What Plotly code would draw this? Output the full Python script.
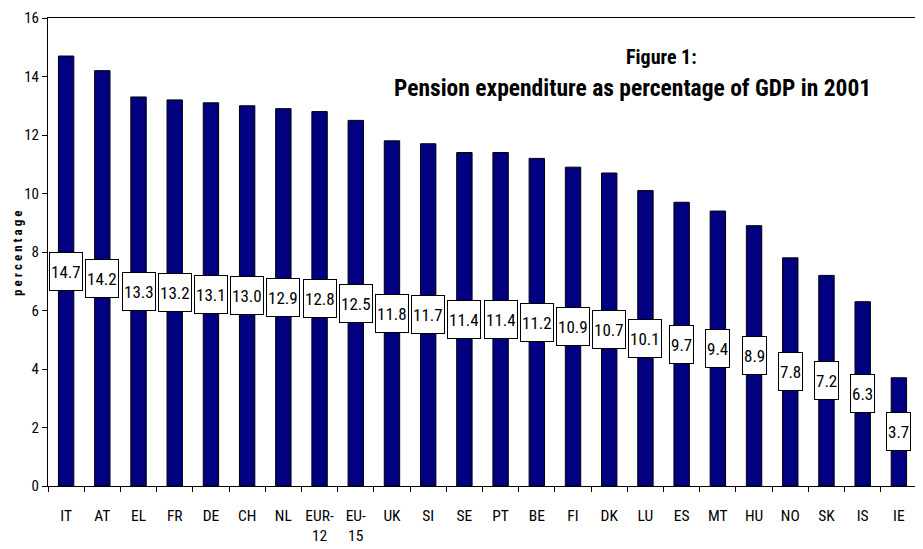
import plotly.graph_objects as go

countries = ["IT", "AT", "EL", "FR", "DE", "CH", "NL", "EUR-12", "EU-15", "UK", "SI", "SE",
             "PT", "BE", "FI", "DK", "LU", "ES", "MT", "HU", "NO", "SK", "IS", "IE"]
tick_labels = ["IT", "AT", "EL", "FR", "DE", "CH", "NL", "EUR-<br>12", "EU-<br>15", "UK", "SI", "SE",
               "PT", "BE", "FI", "DK", "LU", "ES", "MT", "HU", "NO", "SK", "IS", "IE"]
values = [14.7, 14.2, 13.3, 13.2, 13.1, 13.0, 12.9, 12.8, 12.5, 11.8, 11.7, 11.4,
          11.4, 11.2, 10.9, 10.7, 10.1, 9.7, 9.4, 8.9, 7.8, 7.2, 6.3, 3.7]
y_ticks = [0, 2, 4, 6, 8, 10, 12, 14, 16]

FONT = "Liberation Sans Narrow, Arial Narrow, Roboto Condensed, Liberation Sans, Arial, sans-serif"

OFF = 8  # default page body margin
W, H = 923 - OFF, 549 - OFF
L, R, T, B = 48 - OFF, 6, 18 - OFF, 63
pw, ph = W - L - R, H - T - B


def px_x(x):
    return (x - OFF - L) / pw


def px_y(y):
    return 1 - (y - OFF - T) / ph


fig = go.Figure()
fig.add_trace(go.Bar(
    x=countries, y=values,
    marker=dict(color="#000080", line=dict(color="#000000", width=1)),
    hoverinfo="x+y",
))

for c, v in zip(countries, values):
    fig.add_annotation(
        x=c, y=v / 2, xref="x", yref="y",
        text=f"{v:.1f}", showarrow=False,
        font=dict(family=FONT, size=17, color="#000000"),
        bgcolor="#ffffff", bordercolor="#000000", borderwidth=1, borderpad=1,
        height=35,
    )

fig.add_annotation(
    x=px_x(661), y=px_y(57), xref="paper", yref="paper", text="<b>Figure 1:</b>", showarrow=False,
    xanchor="center", yanchor="middle",
    font=dict(family=FONT, size=20, color="#000000"),
)
fig.add_annotation(
    x=px_x(632), y=px_y(88), xref="paper", yref="paper",
    text="<b>Pension expenditure as percentage of GDP in 2001</b>", showarrow=False,
    xanchor="center", yanchor="middle",
    font=dict(family=FONT, size=23.5, color="#000000"),
)
fig.add_annotation(
    x=px_x(17), y=px_y(254), xref="paper", yref="paper",
    text="<b>p e r c e n t a g e</b>", showarrow=False, textangle=-90,
    xanchor="center", yanchor="middle",
    font=dict(family=FONT, size=13, color="#000000"),
)

fig.update_layout(
    width=W, height=H,
    margin=dict(l=L, r=R, t=T, b=B, autoexpand=False),
    plot_bgcolor="#ffffff", paper_bgcolor="#ffffff",
    bargap=0.575,
    showlegend=False,
    font=dict(family=FONT, size=15, color="#000000"),
)
fig.update_xaxes(
    tickmode="array", tickvals=countries, ticktext=tick_labels, tickangle=0,
    tickson="boundaries", ticks="outside", ticklen=5, tickcolor="#000000",
    showline=True, linecolor="#000000", linewidth=1, mirror=True, automargin=False,
    showgrid=False, tickfont=dict(family=FONT, size=15.5), ticklabelstandoff=15,
)
fig.update_yaxes(
    range=[0, 16], tickmode="array", tickvals=y_ticks,
    ticks="outside", ticklen=5, tickcolor="#000000", automargin=False,
    showline=True, linecolor="#000000", linewidth=1, mirror=True,
    showgrid=False, zeroline=False, tickfont=dict(family=FONT, size=15),
)

fig.write_html("out.html")
